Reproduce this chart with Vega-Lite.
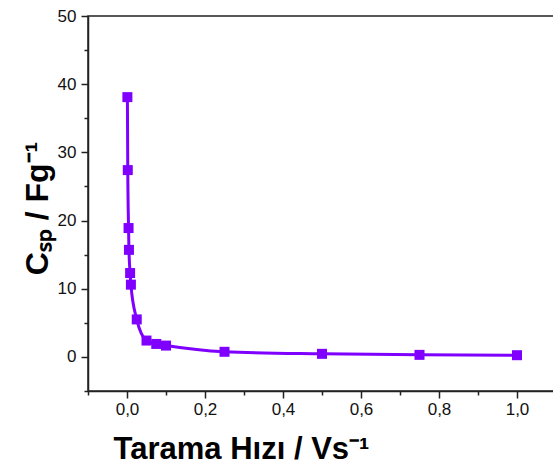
{
  "$schema": "https://vega.github.io/schema/vega-lite/v6.json",
  "width": 468,
  "height": 375,
  "autosize": {"type": "none"},
  "padding": {"left": 88, "top": 16, "right": 0, "bottom": 79},
  "background": "white",
  "config": {
    "view": {"stroke": "#222222", "strokeWidth": 1.5},
    "font": "Liberation Sans"
  },
  "data": {
    "values": [
      {"rate": 0.001, "csp": 38.1},
      {"rate": 0.002, "csp": 27.4},
      {"rate": 0.004, "csp": 18.9},
      {"rate": 0.005, "csp": 15.7},
      {"rate": 0.008, "csp": 12.3},
      {"rate": 0.01, "csp": 10.6},
      {"rate": 0.025, "csp": 5.5},
      {"rate": 0.05, "csp": 2.4},
      {"rate": 0.075, "csp": 1.9},
      {"rate": 0.1, "csp": 1.66},
      {"rate": 0.25, "csp": 0.75},
      {"rate": 0.5, "csp": 0.45},
      {"rate": 0.75, "csp": 0.3},
      {"rate": 1.0, "csp": 0.25}
    ]
  },
  "encoding": {
    "x": {
      "field": "rate",
      "type": "quantitative",
      "scale": {"domain": [-0.1, 1.1], "nice": false, "zero": false},
      "axis": {
        "values": [-0.1, 0, 0.1, 0.2, 0.3, 0.4, 0.5, 0.6, 0.7, 0.8, 0.9, 1.0],
        "labelExpr": "abs(round(datum.value*10)) % 2 == 0 ? replace(format(datum.value, '.1f'), '.', ',') : ''",
        "grid": false,
        "domainColor": "#222222",
        "domainWidth": 1.5,
        "tickColor": "#222222",
        "tickWidth": 1.5,
        "tickSize": {"condition": {"test": "abs(round(datum.value*10)) % 2 == 0", "value": 7}, "value": 4},
        "labelFont": "Liberation Sans",
        "labelFontSize": 17,
        "labelColor": "#111111",
        "labelPadding": 3,
        "labelFlush": false,
        "labelOverlap": false,
        "title": "Tarama Hızı / Vs⁻¹",
        "titleFont": "Liberation Sans",
        "titleFontSize": 31,
        "titleFontWeight": "bold",
        "titleColor": "#000000",
        "titleAnchor": null,
        "titleX": 153,
        "titleY": 67,
        "titleAlign": "center",
        "titleBaseline": "alphabetic"
      }
    },
    "y": {
      "field": "csp",
      "type": "quantitative",
      "scale": {"domain": [-5, 50], "nice": false, "zero": false},
      "axis": {
        "values": [-5, 0, 5, 10, 15, 20, 25, 30, 35, 40, 45, 50],
        "labelExpr": "abs(round(datum.value)) % 10 == 0 ? format(datum.value, 'd') : ''",
        "grid": false,
        "domainColor": "#222222",
        "domainWidth": 1.5,
        "tickColor": "#222222",
        "tickWidth": 1.5,
        "tickSize": {"condition": {"test": "abs(round(datum.value)) % 10 == 0", "value": 7}, "value": 4},
        "labelFont": "Liberation Sans",
        "labelFontSize": 17,
        "labelColor": "#111111",
        "labelPadding": 5,
        "labelFlush": false,
        "labelOverlap": false,
        "title": "Cₛₚ / Fg⁻¹",
        "titleFont": "Liberation Sans",
        "titleFontSize": 32,
        "titleFontWeight": "bold",
        "titleColor": "#000000",
        "titleAnchor": null,
        "titleAngle": 270,
        "titleX": -41,
        "titleY": 192,
        "titleAlign": "center",
        "titleBaseline": "alphabetic"
      }
    }
  },
  "layer": [
    {
      "mark": {"type": "line", "interpolate": "monotone", "color": "#7F00FF", "strokeWidth": 3}
    },
    {
      "mark": {"type": "point", "shape": "square", "filled": true, "size": 100, "color": "#7F00FF", "opacity": 1}
    }
  ]
}
